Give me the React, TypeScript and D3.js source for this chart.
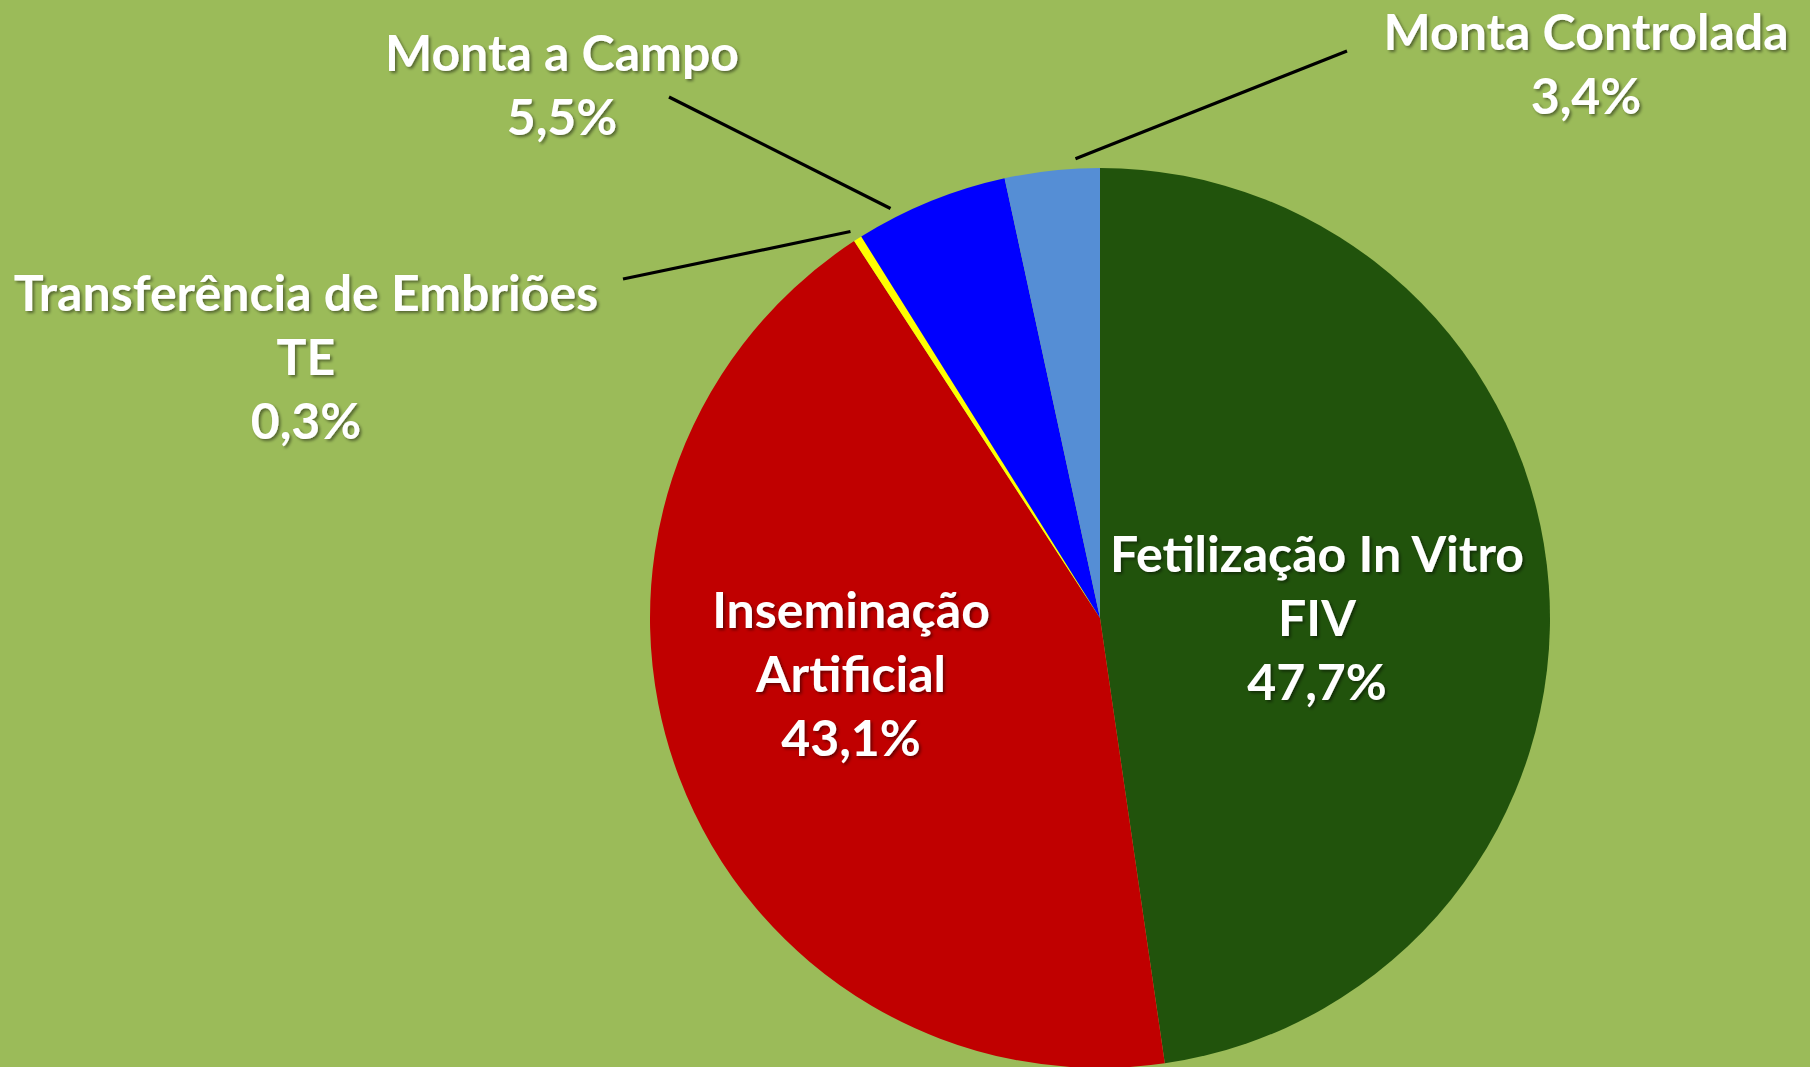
import { useEffect, useRef } from 'react';
import * as d3 from 'd3';

const W = 1810, H = 1067;
const CX = 1100, CY = 618, R = 450;

const categories = ['FIV', 'IA', 'TE', 'MaC', 'MC'];
const labelLines = [
  ['Fetilização In Vitro', 'FIV'],
  ['Inseminação', 'Artificial'],
  ['Transferência de Embriões', 'TE'],
  ['Monta a Campo'],
  ['Monta Controlada'],
];
const values = [47.7, 43.1, 0.3, 5.5, 3.4];
const colors = ['#21530C', '#C00000', '#FFFF00', '#0000FF', '#558ED5'];

// label placement (text anchor + where the leader line leaves the label)
const labelPos = [
  { x: 1317, y: 572, from: null },
  { x: 851, y: 628, from: null },
  { x: 306, y: 311, from: [623, 279] },
  { x: 562, y: 71, from: [669, 97] },
  { x: 1586, y: 50, from: [1347, 51] },
];

const fmt = (v: number) => v.toFixed(1).replace('.', ',') + '%';

export default function App() {
  const svgRef = useRef<SVGSVGElement>(null);

  useEffect(() => {
    document.body.style.margin = '0';
    const svg = d3.select(svgRef.current);
    svg.selectAll('*').remove();

    const defs = svg.append('defs');
    defs.append('filter')
      .attr('id', 'shadow')
      .attr('x', '-10%').attr('y', '-30%').attr('width', '120%').attr('height', '160%')
      .append('feDropShadow')
      .attr('dx', 2).attr('dy', 2).attr('stdDeviation', 1.5)
      .attr('flood-color', '#000').attr('flood-opacity', 0.45);

    svg.append('rect').attr('width', W).attr('height', H).attr('fill', '#9BBB59');

    const data = categories.map((c, i) => ({ c, v: values[i], i }));
    const arcs = d3.pie<any>().sort(null).value((d) => d.v)(data);
    const arc = d3.arc<any>().innerRadius(0).outerRadius(R);

    const g = svg.append('g').attr('transform', `translate(${CX},${CY})`);
    g.selectAll('path')
      .data(arcs)
      .join('path')
      .attr('d', arc)
      .attr('fill', (d) => colors[d.data.i]);

    // leader lines: aim at the label, kept within the inner half of the slice
    arcs.forEach((a) => {
      const p = labelPos[a.data.i];
      if (!p.from) return;
      const [fx, fy] = p.from;
      const mid = (a.startAngle + a.endAngle) / 2;
      const span = a.endAngle - a.startAngle;
      let diff = Math.atan2(fx - CX, -(fy - CY)) - mid;
      diff = Math.atan2(Math.sin(diff), Math.cos(diff));
      diff = Math.max(-span / 4, Math.min(span / 4, diff));
      const ang = mid + diff;
      const rr = R + 10;
      svg.append('line')
        .attr('x1', fx).attr('y1', fy)
        .attr('x2', CX + rr * Math.sin(ang))
        .attr('y2', CY - rr * Math.cos(ang))
        .attr('stroke', '#000')
        .attr('stroke-width', 3.2);
    });

    // labels
    data.forEach((d) => {
      const p = labelPos[d.i];
      const lines = [...labelLines[d.i], fmt(d.v)];
      const t = svg.append('text')
        .attr('x', p.x).attr('y', p.y)
        .attr('text-anchor', 'middle')
        .attr('font-family', 'Lato, "Open Sans", sans-serif')
        .attr('font-weight', 700)
        .attr('font-size', 50)
        .attr('fill', '#fff')
        .attr('filter', 'url(#shadow)');
      lines.forEach((l, k) => {
        t.append('tspan').attr('x', p.x).attr('dy', k === 0 ? 0 : 64).text(l);
      });
    });
  }, []);

  return <svg ref={svgRef} width={W} height={H} style={{ display: 'block' }} />;
}
